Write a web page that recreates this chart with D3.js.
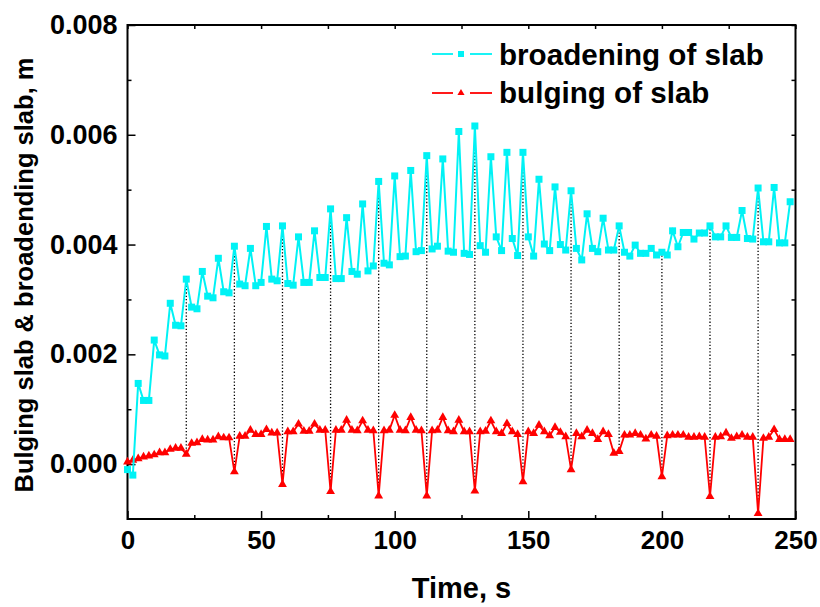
<!DOCTYPE html>
<html>
<head>
<meta charset="utf-8">
<script src="https://cdn.jsdelivr.net/npm/d3@7"></script>
<style>
  body { margin: 0; background: #fff; }
  svg { display: block; }
  text { font-family: "Liberation Sans", Arial, sans-serif; font-weight: bold; fill: #000; }
</style>
</head>
<body>
<svg id="chart" width="820" height="607"></svg>
<script>
// Sampling instants, s
const timeS = [
  0, 2, 4, 6, 8, 10, 12, 14, 16, 18, 20, 22, 24, 26, 28, 30, 32, 34, 36, 38,
  40, 42, 44, 46, 48, 50, 52, 54, 56, 58, 60, 62, 64, 66, 68, 70, 72, 74, 76, 78,
  80, 82, 84, 86, 88, 90, 92, 94, 96, 98, 100, 102, 104, 106, 108, 110, 112, 114, 116, 118,
  120, 122, 124, 126, 128, 130, 132, 134, 136, 138, 140, 142, 144, 146, 148, 150, 152, 154, 156, 158,
  160, 162, 164, 166, 168, 170, 172, 174, 176, 178, 180, 182, 184, 186, 188, 190, 192, 194, 196, 198,
  200, 202, 204, 206, 208, 210, 212, 214, 216, 218, 220, 222, 224, 226, 228, 230, 232, 234, 236, 238,
  240, 242, 244, 246, 248
];

// Broadening of slab, m
const broadening = [
  -0.0001, -0.0002, 0.00147, 0.00116, 0.00116, 0.00226, 0.00199, 0.00197, 0.00293, 0.00253,
  0.00252, 0.00337, 0.00286, 0.00283, 0.00351, 0.00306, 0.00303, 0.00375, 0.00314, 0.00312,
  0.00397, 0.00328, 0.00325, 0.00393, 0.00325, 0.00331, 0.00433, 0.00337, 0.00334, 0.00434,
  0.00329, 0.00326, 0.00414, 0.00331, 0.00331, 0.00425, 0.00340, 0.00340, 0.00465, 0.00338,
  0.00338, 0.00449, 0.00351, 0.00346, 0.00474, 0.00352, 0.00361, 0.00515, 0.00366, 0.00363,
  0.00525, 0.00378, 0.00379, 0.00535, 0.00387, 0.00389, 0.00562, 0.00392, 0.00397, 0.00556,
  0.00388, 0.00386, 0.00606, 0.00384, 0.00382, 0.00616, 0.00398, 0.00386, 0.00560, 0.00414,
  0.00389, 0.00568, 0.00411, 0.00380, 0.00568, 0.00414, 0.00379, 0.00519, 0.00401, 0.00389,
  0.00505, 0.00400, 0.00390, 0.00498, 0.00393, 0.00372, 0.00456, 0.00393, 0.00387, 0.00448,
  0.00390, 0.00390, 0.00434, 0.00386, 0.00379, 0.00399, 0.00384, 0.00384, 0.00393, 0.00381,
  0.00386, 0.00381, 0.00425, 0.00396, 0.00422, 0.00422, 0.00410, 0.00421, 0.00421, 0.00434,
  0.00414, 0.00414, 0.00434, 0.00413, 0.00413, 0.00462, 0.00411, 0.00410, 0.00503, 0.00405,
  0.00405, 0.00504, 0.00403, 0.00403, 0.00478
];

// Bulging of slab, m
const bulging = [
  0.00004, 0.00007, 0.00010, 0.00013, 0.00015, 0.00017, 0.00021, 0.00021, 0.00027, 0.00029,
  0.00029, 0.00018, 0.00038, 0.00039, 0.00045, 0.00044, 0.00044, 0.00050, 0.00048, 0.00048,
  -0.00014, 0.00051, 0.00051, 0.00062, 0.00054, 0.00054, 0.00063, 0.00057, 0.00057, -0.00037,
  0.00059, 0.00059, 0.00073, 0.00060, 0.00060, 0.00073, 0.00062, 0.00062, -0.00050, 0.00062,
  0.00062, 0.00080, 0.00062, 0.00061, 0.00079, 0.00062, 0.00061, -0.00058, 0.00061, 0.00062,
  0.00089, 0.00062, 0.00061, 0.00085, 0.00062, 0.00061, -0.00058, 0.00061, 0.00062, 0.00085,
  0.00061, 0.00059, 0.00080, 0.00059, 0.00059, -0.00049, 0.00059, 0.00060, 0.00079, 0.00059,
  0.00056, 0.00074, 0.00059, 0.00054, -0.00032, 0.00059, 0.00056, 0.00071, 0.00059, 0.00052,
  0.00067, 0.00058, 0.00050, -0.00010, 0.00056, 0.00050, 0.00062, 0.00056, 0.00045, 0.00059,
  0.00054, 0.00020, 0.00023, 0.00053, 0.00053, 0.00056, 0.00053, 0.00046, 0.00053, 0.00051,
  -0.00023, 0.00052, 0.00053, 0.00053, 0.00053, 0.00049, 0.00049, 0.00050, 0.00049, -0.00059,
  0.00049, 0.00050, 0.00057, 0.00047, 0.00050, 0.00053, 0.00049, 0.00049, -0.00090, 0.00047,
  0.00049, 0.00063, 0.00045, 0.00045, 0.00045
];

// Instants where a broadening peak lines up with a bulging drop
const linkTimes = [22, 40, 58, 76, 94, 112, 130, 148, 166, 184, 200, 218, 236];

const xMajorTicks = [0, 50, 100, 150, 200, 250];
const xMinorTicks = [25, 75, 125, 175, 225];
const yMajorTicks = [0.000, 0.002, 0.004, 0.006, 0.008];
const yMinorTicks = [0.001, 0.003, 0.005, 0.007];

const seriesNames = ["broadening of slab", "bulging of slab"];
const xTitle = "Time, s";
const yTitle = "Bulging slab & broadending slab, m";

const CYAN = "#00F2F5";
const RED = "#FF0000";

const svg = d3.select("#chart");
const plotL = 127.5, plotR = 795.5, plotT = 25, plotB = 519;

const x = d3.scaleLinear().domain([0, 250]).range([plotL, plotR]);
const y = d3.scaleLinear().domain([-0.001, 0.008]).range([plotB, plotT]);

const broadRows = timeS.map((t, i) => ({ t, v: broadening[i] }));
const bulgeRows = timeS.map((t, i) => ({ t, v: bulging[i] }));

// axes: ticks point into the plot on all four sides
function styleAxis(g) {
  g.select(".domain").remove();
  g.selectAll(".tick line").attr("stroke", "#000").attr("stroke-width", 1.5);
}

svg.append("g").attr("transform", `translate(0,${plotB})`)
  .call(d3.axisBottom(x).tickValues(xMajorTicks).tickSizeInner(-8).tickSizeOuter(0)
    .tickPadding(12).tickFormat(d3.format("d")))
  .call(styleAxis)
  .call(g => g.selectAll("text").style("font-size", "26px"));
svg.append("g").attr("transform", `translate(0,${plotB})`)
  .call(d3.axisBottom(x).tickValues(xMinorTicks).tickSizeInner(-4).tickSizeOuter(0).tickFormat(""))
  .call(styleAxis);

svg.append("g").attr("transform", `translate(${plotL},0)`)
  .call(d3.axisLeft(y).tickValues(yMajorTicks).tickSizeInner(-8).tickSizeOuter(0)
    .tickPadding(10).tickFormat(d3.format(".3f")))
  .call(styleAxis)
  .call(g => g.selectAll("text").style("font-size", "27px"));
svg.append("g").attr("transform", `translate(${plotL},0)`)
  .call(d3.axisLeft(y).tickValues(yMinorTicks).tickSizeInner(-4).tickSizeOuter(0).tickFormat(""))
  .call(styleAxis);

svg.append("g").attr("transform", `translate(0,${plotT})`)
  .call(d3.axisTop(x).tickValues(xMajorTicks.concat(xMinorTicks)).tickSizeInner(-4).tickSizeOuter(0).tickFormat(""))
  .call(styleAxis);
svg.append("g").attr("transform", `translate(${plotR},0)`)
  .call(d3.axisRight(y).tickValues(yMajorTicks.concat(yMinorTicks)).tickSizeInner(-4).tickSizeOuter(0).tickFormat(""))
  .call(styleAxis);

// frame
svg.append("rect")
  .attr("x", plotL).attr("y", plotT)
  .attr("width", plotR - plotL).attr("height", plotB - plotT)
  .attr("fill", "none").attr("stroke", "#000").attr("stroke-width", 2);

// dotted connectors between matching peaks and drops
const byTime = new Map(timeS.map((t, i) => [t, i]));
svg.append("g").selectAll("line").data(linkTimes).join("line")
  .attr("x1", d => x(d)).attr("x2", d => x(d))
  .attr("y1", d => y(broadening[byTime.get(d)]))
  .attr("y2", d => y(bulging[byTime.get(d)]))
  .attr("stroke", "#000").attr("stroke-width", 1.3)
  .attr("stroke-dasharray", "1.3,2");

const line = d3.line().x(d => x(d.t)).y(d => y(d.v));

// bulging series
svg.append("path").datum(bulgeRows)
  .attr("d", line).attr("fill", "none").attr("stroke", RED).attr("stroke-width", 1.8);
const tri = d3.symbol().type(d3.symbolTriangle).size(34);
svg.append("g").selectAll("path").data(bulgeRows).join("path")
  .attr("d", tri)
  .attr("transform", d => `translate(${x(d.t)},${y(d.v)})`)
  .attr("fill", RED);

// broadening series
svg.append("path").datum(broadRows)
  .attr("d", line).attr("fill", "none").attr("stroke", CYAN).attr("stroke-width", 2);
svg.append("g").selectAll("rect").data(broadRows).join("rect")
  .attr("x", d => x(d.t) - 3.5).attr("y", d => y(d.v) - 3.5)
  .attr("width", 7).attr("height", 7)
  .attr("fill", CYAN);

// legend
const legend = svg.append("g");
const legendRows = [
  { name: seriesNames[0], color: CYAN, kind: "square", cy: 54, base: 65 },
  { name: seriesNames[1], color: RED, kind: "triangle", cy: 93, base: 103 }
];
legendRows.forEach(r => {
  legend.append("line").attr("x1", 432).attr("x2", 453).attr("y1", r.cy).attr("y2", r.cy)
    .attr("stroke", r.color).attr("stroke-width", 1.8);
  legend.append("line").attr("x1", 470).attr("x2", 492).attr("y1", r.cy).attr("y2", r.cy)
    .attr("stroke", r.color).attr("stroke-width", 1.8);
  if (r.kind === "square") {
    legend.append("rect").attr("x", 458).attr("y", r.cy - 3).attr("width", 6).attr("height", 6)
      .attr("fill", r.color);
  } else {
    legend.append("path").attr("d", d3.symbol().type(d3.symbolTriangle).size(22)())
      .attr("transform", `translate(461,${r.cy})`).attr("fill", r.color);
  }
  legend.append("text").attr("x", 499).attr("y", r.base)
    .style("font-size", "29.6px").text(r.name);
});

// axis titles
svg.append("text")
  .attr("x", (plotL + plotR) / 2).attr("y", 598)
  .attr("text-anchor", "middle").style("font-size", "29px")
  .text(xTitle);
svg.append("text")
  .attr("transform", `translate(33,275) rotate(-90)`)
  .attr("text-anchor", "middle").style("font-size", "25.5px")
  .text(yTitle);
</script>
</body>
</html>
